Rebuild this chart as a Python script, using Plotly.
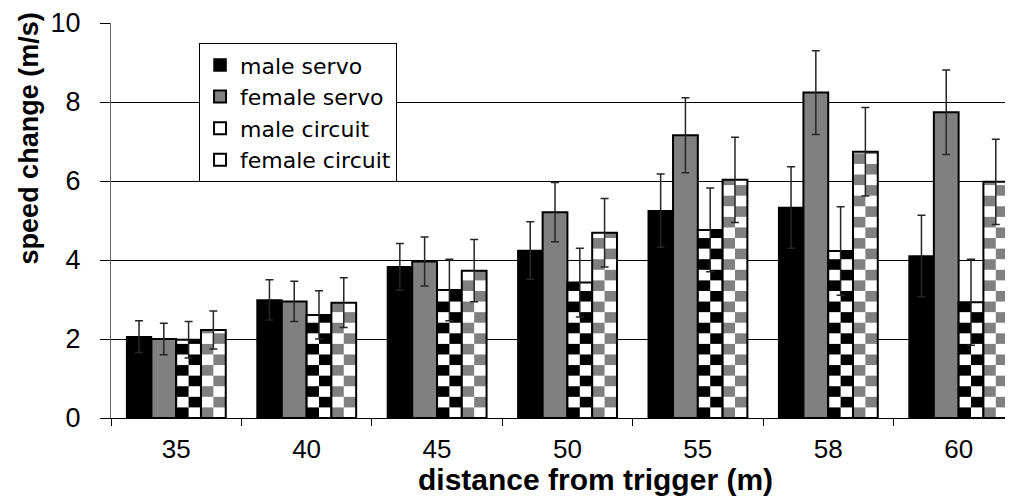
import plotly.graph_objects as go

# ---- data ----
distances = ['35', '40', '45', '50', '55', '58', '60']
male_servo = [2.06, 2.99, 3.83, 4.24, 5.25, 5.33, 4.10]
male_servo_err = [0.40, 0.51, 0.59, 0.73, 0.93, 1.03, 1.03]
female_servo = [2.00, 2.95, 3.96, 5.21, 7.16, 8.24, 7.74]
female_servo_err = [0.40, 0.51, 0.62, 0.75, 0.95, 1.06, 1.07]
male_circuit = [1.98, 2.61, 3.24, 3.43, 4.76, 4.23, 2.93]
male_circuit_err = [0.46, 0.61, 0.78, 0.87, 1.06, 1.12, 1.09]
female_circuit = [2.23, 2.92, 3.73, 4.69, 6.03, 6.74, 5.98]
female_circuit_err = [0.48, 0.63, 0.79, 0.87, 1.08, 1.12, 1.08]
y_ticks = [0, 2, 4, 6, 8, 10]
x_title = 'distance from trigger (m)'
y_title = 'speed change (m/s)'

# ---- style ----
FONT = 'Liberation Sans, Arial, sans-serif'
BAR_W = 0.19
OFFS = [-2 * BAR_W, -BAR_W, 0.0, BAR_W]
CELL_H = 0.268  # checker cell height in data units (pattern style)
GRAY = '#808080'

fig = go.Figure()


def err(vals):
    return dict(type='data', array=vals, visible=True, color='#262626',
                thickness=1.5, width=4)


fig.add_bar(x=distances, y=male_servo, name='male servo', width=BAR_W,
            offset=OFFS[0],
            marker=dict(color='black', line=dict(color='black', width=1.5)),
            error_y=err(male_servo_err))
fig.add_bar(x=distances, y=female_servo, name='female servo', width=BAR_W,
            offset=OFFS[1],
            marker=dict(color=GRAY, line=dict(color='black', width=2)),
            error_y=err(female_servo_err))


def checker(vals, errs, name, dark, off):
    # white background of the bar
    fig.add_bar(x=distances, y=vals, width=BAR_W, offset=off,
                marker=dict(color='white', line=dict(width=0)),
                showlegend=False, hoverinfo='skip')
    # dark checker cells, derived from the bar value
    cx, cb, cy, co = [], [], [], []
    for cat, v in zip(distances, vals):
        k = 0
        while k * CELL_H < v - 1e-9:
            h = min(CELL_H, v - k * CELL_H)
            for c in range(2):
                if (k + c) % 2 == 0:
                    cx.append(cat)
                    cb.append(k * CELL_H)
                    cy.append(h)
                    co.append(off + c * BAR_W / 2)
            k += 1
    fig.add_bar(x=cx, y=cy, base=cb, offset=co, width=BAR_W / 2,
                marker=dict(color=dark, line=dict(width=0)),
                showlegend=False, hoverinfo='skip')
    # outline + error bars
    fig.add_bar(x=distances, y=vals, name=name, width=BAR_W, offset=off,
                marker=dict(color='rgba(0,0,0,0)',
                            line=dict(color='black', width=2)),
                error_y=err(errs))


checker(male_circuit, male_circuit_err, 'male circuit', 'black', OFFS[2])
checker(female_circuit, female_circuit_err, 'female circuit', GRAY, OFFS[3])

# page body has an 8px default margin, so the figure is 8px smaller
fig.update_layout(
    width=1005, height=495,
    margin=dict(l=103, r=0, t=15, b=85),
    paper_bgcolor='white', plot_bgcolor='white',
    barmode='overlay',
    font=dict(family=FONT, color='black', size=26),
    showlegend=True,
    legend=dict(x=0.0976, y=0.949, xanchor='left', yanchor='top',
                bgcolor='white', bordercolor='black', borderwidth=1,
                font=dict(size=22, family='DejaVu Sans, sans-serif',
                          color='black'),
                tracegroupgap=0, traceorder='normal'),
    annotations=[
        dict(text=x_title, xref='paper', yref='paper', x=0.537, y=-0.155,
             xanchor='center', yanchor='middle', showarrow=False,
             font=dict(size=30, family=FONT, color='black', weight='bold')),
        dict(text=y_title, xref='paper', yref='paper', x=-0.0915, y=0.709,
             xanchor='center', yanchor='middle', showarrow=False,
             textangle=-90,
             font=dict(size=27, family=FONT, color='black', weight='bold')),
    ],
)
fig.update_xaxes(
    type='category', range=[-0.5, 6.417], tickson='boundaries',
    ticks='outside', ticklen=7, tickcolor='black', tickwidth=1,
    showline=True, linecolor='black', linewidth=1, showgrid=False,
    ticklabelstandoff=8, automargin=False,
    tickfont=dict(size=26, family=FONT, color='black'),
)
fig.update_yaxes(
    range=[0, 10], tickvals=y_ticks, ticks='outside', ticklen=10,
    tickcolor='black', tickwidth=1,
    showline=True, linecolor='#666666', linewidth=1,
    showgrid=True, gridcolor='black', gridwidth=1, zeroline=False,
    ticklabelstandoff=14, automargin=False,
    tickfont=dict(size=27, family=FONT, color='black'),
)

fig.write_html('out.html')
